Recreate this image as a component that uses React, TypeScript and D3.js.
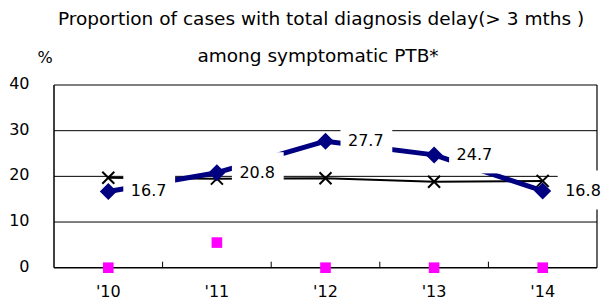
import React from "react";
import * as d3 from "d3";

const categories = ["'10", "'11", "'12", "'13", "'14"];
const delayValues = [16.7, 20.8, 27.7, 24.7, 16.8];
const crossValues = [19.7, 19.5, 19.6, 18.8, 19.0];
const pinkValues = [0, 5.5, 0, 0, 0];
const yTicks = [0, 10, 20, 30, 40];
const titleLines = ["Proportion of cases with total diagnosis delay(> 3 mths )", "among symptomatic PTB*"];

const W = 603;
const H = 300;
const FONT = "'DejaVu Sans', Verdana, sans-serif";

export default function App() {
  const left = 54;
  const right = 597;
  const top = 85;
  const bottom = 267.7;

  const x = d3.scaleBand<string>().domain(categories).range([left, right]).padding(0);
  const y = d3.scaleLinear().domain([0, 40]).range([bottom, top]);
  const cx = (c: string) => (x(c) as number) + x.bandwidth() / 2;

  const seriesLine = d3
    .line<number>()
    .x((_, i) => cx(categories[i]))
    .y((d) => y(d));

  const textWidth = (s: string) => s.length * 10.2 - (s.includes(".") ? 5 : 0);

  return (
    <svg
      width={W}
      height={H}
      style={{ position: "absolute", left: 0, top: 0, background: "#fff" }}
      fontFamily={FONT}
    >
      <rect x={0} y={0} width={W} height={H} fill="#fff" />
      {/* title */}
      <text x={321} y={25} textAnchor="middle" fontSize={18.5} fill="#000">
        {titleLines[0]}
      </text>
      <text x={318} y={62} textAnchor="middle" fontSize={18.5} fill="#000">
        {titleLines[1]}
      </text>
      <text x={45} y={63} textAnchor="middle" fontSize={16} fill="#000">
        %
      </text>

      {/* gridlines */}
      {yTicks
        .filter((t) => t !== 0 && t !== 40)
        .map((t) => (
          <line key={t} x1={left} x2={right} y1={y(t)} y2={y(t)} stroke="#000" strokeWidth={1} />
        ))}

      {/* frame */}
      <line x1={left} x2={right} y1={top} y2={top} stroke="#000" strokeWidth={1.2} />
      <line x1={right} x2={right} y1={top} y2={bottom} stroke="#000" strokeWidth={1.2} />
      <line x1={left} x2={left} y1={top} y2={bottom} stroke="#000" strokeWidth={1.5} />
      <line x1={left} x2={right} y1={bottom} y2={bottom} stroke="#000" strokeWidth={1.5} />

      {/* x ticks (inside) */}
      {categories.slice(1).map((c) => (
        <line key={c} x1={x(c) as number} x2={x(c) as number} y1={bottom} y2={bottom - 6} stroke="#000" strokeWidth={1} />
      ))}

      {/* y tick labels */}
      {yTicks.map((t) => (
        <text key={t} x={29.5} y={y(t) + 4} textAnchor="end" fontSize={16} fill="#000">
          {t}
        </text>
      ))}

      {/* x labels */}
      {categories.map((c) => (
        <text key={c} x={cx(c)} y={297} textAnchor="middle" fontSize={16} fill="#000">
          {c}
        </text>
      ))}

      {/* black series */}
      <path d={seriesLine(crossValues) || ""} fill="none" stroke="#000" strokeWidth={2} />
      {crossValues.map((v, i) => {
        const px = cx(categories[i]);
        const py = y(v);
        const s = 6;
        return (
          <g key={i} stroke="#000" strokeWidth={2}>
            <line x1={px - s} x2={px + s} y1={py - s} y2={py + s} />
            <line x1={px - s} x2={px + s} y1={py + s} y2={py - s} />
          </g>
        );
      })}

      {/* blue series */}
      <path d={seriesLine(delayValues) || ""} fill="none" stroke="#000080" strokeWidth={5} strokeLinejoin="round" />
      {delayValues.map((v, i) => {
        const px = cx(categories[i]);
        const py = y(v);
        const r = 8.5;
        return (
          <path
            key={i}
            d={`M${px},${py - r}L${px + r},${py}L${px},${py + r}L${px - r},${py}Z`}
            fill="#000080"
          />
        );
      })}

      {/* pink series */}
      {pinkValues.map((v, i) => {
        const px = cx(categories[i]);
        const py = y(v);
        const s = 10.6;
        return <rect key={i} x={px - s / 2} y={py - s / 2} width={s} height={s} fill="#FF00FF" />;
      })}

      {/* data labels with white boxes */}
      {delayValues.map((v, i) => {
        const px = cx(categories[i]);
        const py = y(v) - 1;
        const label = v.toFixed(1);
        const tw = textWidth(label);
        return (
          <g key={i}>
            <rect x={px + 15} y={py - 19.5} width={tw + 16} height={39} fill="#fff" />
            <text x={px + 22.5} y={py + 6} fontSize={16} fill="#000">
              {label}
            </text>
          </g>
        );
      })}
    </svg>
  );
}
